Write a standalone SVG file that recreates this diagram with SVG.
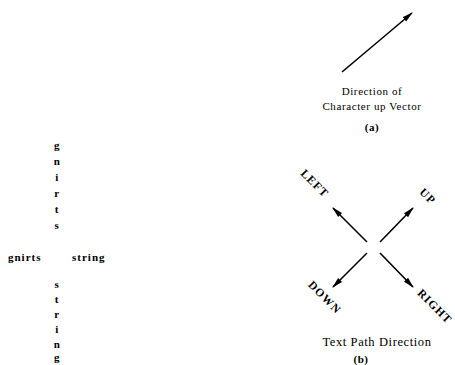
<svg xmlns="http://www.w3.org/2000/svg" width="455" height="365" viewBox="0 0 455 365">
<defs>
<marker id="ah" markerWidth="11" markerHeight="8" refX="10" refY="4" orient="auto" markerUnits="userSpaceOnUse">
<path d="M0,1.2 L11,4 L0,6.8 Z" fill="#000"/>
</marker>
<style>
.t{font-family:"Liberation Serif",serif;font-size:11px;fill:#000;letter-spacing:0.6px;}
.c{text-anchor:middle;}
.b{font-weight:bold;}
.lb{font-size:11.5px;letter-spacing:1px;font-weight:bold;}
.ln{stroke:#000;stroke-width:1.6;fill:none;marker-end:url(#ah);}
</style>
</defs>
<rect width="455" height="365" fill="#fff"/>
<g id="connectors">
<line class="ln" x1="342" y1="72" x2="412" y2="13"/>
<line class="ln" x1="367" y1="242" x2="333" y2="208"/>
<line class="ln" x1="380" y1="242" x2="413" y2="208"/>
<line class="ln" x1="367" y1="253" x2="333" y2="287"/>
<line class="ln" x1="380" y1="253" x2="413" y2="287"/>
</g>
<g id="caption-a">
<text class="t c" x="372" y="95">Direction of</text>
<text class="t c" x="372" y="110">Character up Vector</text>
<text class="t c b" x="372" y="131">(a)</text>
</g>
<g id="label-left"><text class="t c lb" transform="translate(312,186) rotate(45)">LEFT</text></g>
<g id="label-up"><text class="t c lb" transform="translate(425,199) rotate(45)">UP</text></g>
<g id="label-down"><text class="t c lb" transform="translate(322,300) rotate(45)">DOWN</text></g>
<g id="label-right"><text class="t c lb" transform="translate(432,309) rotate(45)">RIGHT</text></g>
<g id="caption-b">
<text class="t c" style="font-size:12.5px" x="377" y="346">Text Path Direction</text>
<text class="t c b" x="361" y="363">(b)</text>
</g>
<g id="text-left"><text class="t b" style="letter-spacing:1px" x="8" y="261">gnirts</text></g>
<g id="text-right"><text class="t b" style="letter-spacing:1px" x="72" y="261">string</text></g>
<g id="text-up" class="t c b">
<text x="57" y="149">g</text>
<text x="57" y="165">n</text>
<text x="57" y="181">i</text>
<text x="57" y="197">r</text>
<text x="57" y="213">t</text>
<text x="57" y="229">s</text>
</g>
<g id="text-down" class="t c b">
<text x="57" y="288">s</text>
<text x="57" y="303">t</text>
<text x="57" y="318">r</text>
<text x="57" y="333">i</text>
<text x="57" y="348">n</text>
<text x="57" y="361">g</text>
</g>
</svg>
